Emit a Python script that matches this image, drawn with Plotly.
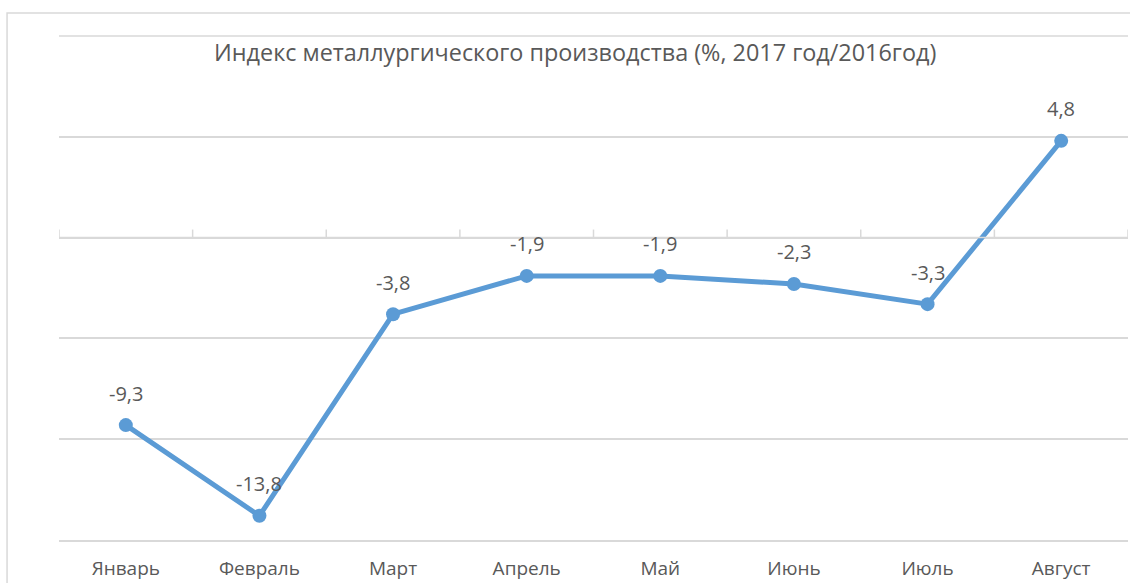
import plotly.graph_objects as go

months = ["Январь", "Февраль", "Март", "Апрель", "Май", "Июнь", "Июль", "Август"]
values = [-9.3, -13.8, -3.8, -1.9, -1.9, -2.3, -3.3, 4.8]
labels = ["-9,3", "-13,8", "-3,8", "-1,9", "-1,9", "-2,3", "-3,3", "4,8"]
title = "Индекс металлургического производства (%, 2017 год/2016год)"

blue = "#5B9BD5"
grey_txt = "#595959"
grid = "#D9D9D9"
font = "Open Sans"

fig = go.Figure()
fig.add_trace(go.Scatter(
    x=months, y=values, mode="lines+markers",
    line=dict(color=blue, width=5),
    marker=dict(color=blue, size=14),
    hoverinfo="skip",
))

# data labels above points
for m, v, t in zip(months, values, labels):
    fig.add_annotation(x=m, y=v, text=t, showarrow=False, yshift=32,
                       font=dict(family=font, size=20, color=grey_txt))

# zero axis with tick marks between categories
fig.add_shape(type="line", xref="x", yref="y", x0=-0.5, x1=7.5, y0=0, y1=0,
              line=dict(color=grid, width=1.5))
for i in range(9):
    fig.add_shape(type="line", xref="x", yref="y", x0=i - 0.5, x1=i - 0.5,
                  y0=0, y1=0.4, line=dict(color=grid, width=1.5))
# top gridline (plotly skips the one on the range edge)
fig.add_shape(type="line", xref="paper", yref="paper", x0=0, x1=1, y0=1, y1=1,
              line=dict(color=grid, width=1.5))

# chart frame
fig.add_shape(type="rect", xref="paper", yref="paper",
              x0=-0.0486, x1=1.2, y0=-0.2, y1=1.0456,
              line=dict(color=grid, width=1.5))

fig.add_annotation(xref="paper", yref="paper", x=0.4827, y=0.968, text=title,
                   showarrow=False, xanchor="center", yanchor="middle",
                   font=dict(family=font, size=23.4, color=grey_txt))

fig.update_layout(
    width=1130, height=583,
    margin=dict(l=59, r=2, t=36, b=43),
    paper_bgcolor="white", plot_bgcolor="white",
    showlegend=False,
    font=dict(family=font, color=grey_txt),
)
fig.update_xaxes(range=[-0.5, 7.5], showgrid=False, showline=True, linecolor=grid,
                 linewidth=1.5, ticks="", ticklabelstandoff=10, automargin=False,
                 tickfont=dict(family=font, size=19, color=grey_txt))
fig.update_yaxes(range=[-15, 10], dtick=5, showgrid=True, gridcolor=grid, gridwidth=1.5,
                 showticklabels=False, zeroline=False, showline=False, automargin=False)

# page body has an 8px default margin; drop it so the chart sits at 0,0
fig.write_html("out.html", config={"displayModeBar": False},
               post_script="document.body.style.margin='0';")
